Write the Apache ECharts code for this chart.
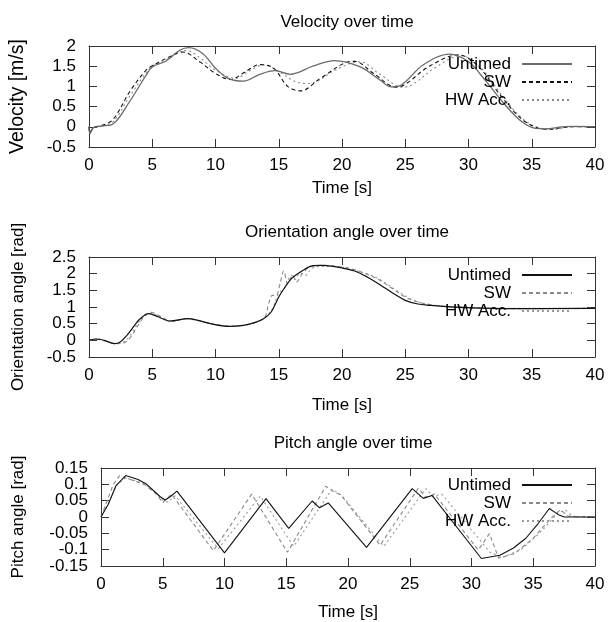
<!DOCTYPE html>
<html>
<head>
<meta charset="utf-8">
<script src="https://cdn.jsdelivr.net/npm/echarts@6/dist/echarts.min.js"></script>
<style>
html,body{margin:0;padding:0;background:#fff;}
#chart{width:608px;height:622px;}
</style>
</head>
<body>
<div id="chart"></div>
<script>
// ---------- data ----------
const titles = ['Velocity over time', 'Orientation angle over time', 'Pitch angle over time'];
const yNames = ['Velocity [m/s]', 'Orientation angle [rad]', 'Pitch angle [rad]'];
const xName = 'Time [s]';
const legendNames = ['Untimed', 'SW', 'HW Acc.'];

// Velocity [m/s]
const velUntimed = [[0,0],[0.08,-0.17],[0.35,-0.02],[1,0.02],[1.9,0.07],[3.2,0.62],[4.5,1.27],[5,1.48],[6.1,1.63],[7.2,1.9],[7.9,1.96],[9,1.81],[10,1.45],[11,1.2],[12.2,1.13],[13.5,1.3],[14.7,1.39],[15.9,1.3],[17.7,1.5],[19.4,1.64],[21.4,1.49],[23,1.16],[23.9,0.99],[24.6,1.02],[26.4,1.53],[28.5,1.8],[30,1.61],[31.3,1.16],[32.9,0.54],[34.2,0.13],[35.3,-0.04],[36.1,-0.05],[37.4,0.0],[38.5,0.01],[40,0.0]];
const velSW = [[0,0],[0.08,-0.15],[0.35,-0.02],[1,0.03],[1.9,0.18],[3.2,0.86],[4.5,1.4],[5,1.51],[6.1,1.69],[7.4,1.85],[8.8,1.6],[10,1.32],[11.2,1.17],[12.3,1.35],[13.5,1.54],[14.6,1.45],[15.7,1.0],[16.7,0.89],[18.3,1.2],[20.4,1.6],[21,1.62],[22.5,1.32],[24.3,0.98],[25,1.05],[26.9,1.5],[29.2,1.78],[30.8,1.49],[32.4,0.83],[34,0.25],[35.3,-0.01],[36.4,-0.06],[38,0.0],[40,0.0]];
const velHW = [[0,0],[0.08,-0.12],[0.35,-0.02],[1,0.02],[1.9,0.12],[3.2,0.75],[4.5,1.33],[5,1.5],[6.1,1.66],[7.7,1.89],[8.8,1.7],[10,1.4],[11.6,1.2],[12.6,1.37],[13.8,1.53],[15,1.37],[16.3,1.12],[17.3,1.07],[18.2,1.15],[19.3,1.38],[21.4,1.61],[23,1.3],[24.8,0.98],[25.6,1.05],[27.3,1.45],[29.4,1.76],[31,1.45],[32.6,0.8],[34.2,0.22],[35.5,-0.02],[36.7,-0.06],[38.2,0.0],[40,0.0]];

// Orientation angle [rad]
const oriUntimed = [[0,0],[0.6,0.04],[1.2,0.0],[2,-0.1],[2.5,-0.04],[3,0.15],[3.6,0.45],[4,0.63],[4.7,0.8],[5.5,0.7],[6.4,0.58],[7.8,0.65],[8.6,0.6],[9.6,0.5],[11.1,0.42],[12.2,0.45],[13.1,0.53],[13.8,0.65],[14.4,0.85],[15,1.3],[15.5,1.6],[16,1.85],[16.5,2.0],[17,2.12],[17.7,2.24],[18.5,2.25],[20,2.17],[21,2.08],[22,1.9],[23,1.67],[24,1.42],[25,1.2],[26,1.09],[27,1.05],[28,1.02],[30,0.98],[33,0.95],[40,0.96]];
const oriSW = [[0,0],[0.6,0.03],[1.2,-0.01],[2.2,-0.1],[2.8,-0.07],[3.3,0.1],[3.8,0.4],[4.3,0.68],[4.9,0.84],[5.6,0.73],[6.5,0.58],[7.8,0.65],[8.6,0.6],[9.6,0.5],[11.1,0.42],[12.2,0.45],[13.1,0.53],[13.9,0.7],[14.2,1.1],[14.5,1.35],[14.8,1.35],[15.1,1.7],[15.4,2.08],[15.7,1.7],[16.1,1.95],[16.4,1.75],[16.9,2.02],[17.5,2.2],[18.5,2.25],[20,2.2],[21,2.12],[22,1.98],[23,1.8],[24,1.55],[25,1.3],[26,1.15],[27,1.07],[28,1.02],[30,0.97],[33,0.95],[40,0.96]];
const oriHW = [[0,0],[0.6,0.04],[1.2,0.0],[2.1,-0.1],[2.7,-0.06],[3.2,0.12],[3.7,0.42],[4.2,0.66],[4.8,0.81],[5.6,0.71],[6.4,0.56],[7.8,0.64],[8.6,0.6],[9.6,0.5],[11.1,0.42],[12.2,0.45],[13.1,0.53],[13.9,0.68],[14.5,0.95],[15,1.4],[15.5,1.58],[16,1.95],[16.3,1.83],[16.7,2.02],[17.1,1.95],[17.6,2.15],[18.3,2.22],[20,2.19],[21,2.1],[22.5,1.92],[23.5,1.7],[24.5,1.45],[25.5,1.23],[26.5,1.1],[27.5,1.04],[29,1.0],[32,0.96],[40,0.96]];

// Pitch angle [rad]
const pitUntimed = [[0,0],[0.6,0.04],[1.2,0.095],[2,0.127],[3,0.115],[3.7,0.1],[4.8,0.062],[5.2,0.052],[5.6,0.062],[6.15,0.079],[10,-0.11],[13.36,0.056],[15.2,-0.035],[17.1,0.049],[17.7,0.028],[18.4,0.043],[21.5,-0.093],[25.2,0.087],[26.1,0.057],[26.8,0.066],[30.8,-0.127],[32.3,-0.117],[33.4,-0.095],[34.4,-0.065],[35.4,-0.02],[36.3,0.026],[37,0.008],[37.5,0.0],[40,0.0]];
const pitSW = [[0,0],[0.5,0.05],[1,0.1],[1.5,0.126],[2.5,0.113],[3.5,0.1],[4.5,0.07],[5,0.044],[5.7,0.07],[9.1,-0.103],[12.2,0.07],[15.1,-0.108],[18.2,0.094],[18.9,0.076],[19.4,0.068],[22.6,-0.086],[25.7,0.088],[26.3,0.06],[27,0.07],[30.55,-0.101],[31.45,-0.051],[32.2,-0.126],[33.5,-0.112],[35,-0.065],[36.4,-0.005],[37.2,0.022],[37.8,0.004],[38.5,0.0],[40,0.0]];
const pitHW = [[0,0],[0.7,0.05],[1.3,0.1],[2,0.12],[3,0.108],[4,0.09],[5,0.052],[5.4,0.045],[6,0.065],[9.5,-0.097],[12.9,0.064],[15.6,-0.09],[18.7,0.085],[19.5,0.066],[22.9,-0.09],[26.3,0.087],[26.9,0.063],[27.6,0.07],[31.5,-0.108],[32.5,-0.124],[34,-0.1],[35.5,-0.05],[37,0.012],[37.6,0.022],[38.2,0.002],[40,0.0]];

const xTicks = {min: 0, max: 40, interval: 5};
// y tick labels per panel
const yTickLabels = [
  [-0.5, 0, 0.5, 1, 1.5, 2],
  [-0.5, 0, 0.5, 1, 1.5, 2, 2.5],
  [-0.15, -0.1, -0.05, 0, 0.05, 0.1, 0.15]
];
const panelData = [
  [velUntimed, velSW, velHW],
  [oriUntimed, oriSW, oriHW],
  [pitUntimed, pitSW, pitHW]
];

// ---------- layout / style ----------
const FONT = "'Liberation Sans', Arial, sans-serif";
const FS = 17;
const grids = [
  {left: 89, right: 13, top: 46, height: 101},
  {left: 89, right: 13, top: 257, height: 100},
  {left: 101, right: 13, top: 468, height: 100}
];
const xNameGaps = [33, 40, 38];
const yNameGaps = [61, 62, 74];
const yNameSizes = [19.5, 17, 17];
const titleTops = [9, 219, 430];
const legendTops = [55, 266, 476];
const styles = [
  [{c:'#6a6a6a', t:'solid', w:1.3}, {c:'#111', t:[4,3], w:1.1}, {c:'#8a8a8a', t:[2,3], w:1.1}],
  [{c:'#111', t:'solid', w:1.2}, {c:'#888', t:[4,3], w:1.1}, {c:'#999', t:[2,3], w:1.1}],
  [{c:'#111', t:'solid', w:1.1}, {c:'#888', t:[4,3], w:1.1}, {c:'#999', t:[2,3], w:1.1}]
];

const axisLine = {show: true, onZero: false, lineStyle: {color: '#333', width: 1}};
const tickIn = (len) => ({show: true, inside: true, length: len, lineStyle: {color: '#333', width: 1}});
const labelStyle = {fontFamily: FONT, fontSize: FS, color: '#000'};

const option = {
  animation: false,
  backgroundColor: '#fff',
  title: [], grid: [], xAxis: [], yAxis: [], series: [], legend: []
};

for (let g = 0; g < 3; g++) {
  const gr = grids[g];
  option.grid.push(Object.assign({containLabel: false}, gr));
  const cx = gr.left + (608 - gr.left - gr.right) / 2;
  option.title.push({
    text: titles[g], left: cx, top: titleTops[g], textAlign: 'center',
    textStyle: {fontFamily: FONT, fontSize: FS, fontWeight: 'normal', color: '#000'}
  });
  option.xAxis.push({
    type: 'value', gridIndex: g, min: xTicks.min, max: xTicks.max, interval: xTicks.interval,
    position: 'bottom', name: xName, nameLocation: 'middle', nameGap: xNameGaps[g],
    nameTextStyle: labelStyle,
    axisLine: axisLine, axisTick: tickIn(8), splitLine: {show: false},
    axisLabel: Object.assign({margin: 10, showMinLabel: true, showMaxLabel: true, hideOverlap: false}, labelStyle)
  });
  option.xAxis.push({
    type: 'value', gridIndex: g, min: xTicks.min, max: xTicks.max, interval: xTicks.interval,
    position: 'top', axisLine: axisLine, axisTick: tickIn(8), splitLine: {show: false},
    axisLabel: {show: false}
  });
  const ticks = yTickLabels[g];
  const ymin = ticks[0], ymax = ticks[ticks.length - 1];
  const step = Math.round((ticks[1] - ticks[0]) * 1e6) / 1e6;
  const labA = ticks.filter((v, i) => (ticks.length - 1 - i) % 2 === 0);
  const labB = ticks.filter((v, i) => (ticks.length - 1 - i) % 2 === 1);
  const fmt = (v) => String(Math.round(v * 1e6) / 1e6);
  // main left axis (line, ticks, name, half of labels)
  option.yAxis.push({
    type: 'value', gridIndex: g, min: ymin, max: ymax, interval: step,
    position: 'left', name: yNames[g], nameLocation: 'middle', nameGap: yNameGaps[g],
    nameTextStyle: {fontFamily: FONT, fontSize: yNameSizes[g], color: '#000'},
    axisLine: axisLine, axisTick: tickIn(8), splitLine: {show: false},
    axisLabel: Object.assign({margin: 13, customValues: labA, formatter: fmt, showMinLabel: true, showMaxLabel: true, hideOverlap: false}, labelStyle)
  });
  // right mirror axis
  option.yAxis.push({
    type: 'value', gridIndex: g, min: ymin, max: ymax, interval: step,
    position: 'right', axisLine: axisLine, axisTick: tickIn(8), splitLine: {show: false},
    axisLabel: {show: false}
  });
  // second left axis carrying the other half of labels
  option.yAxis.push({
    type: 'value', gridIndex: g, min: ymin, max: ymax, interval: step,
    position: 'left', axisLine: {show: false, onZero: false}, axisTick: {show: false}, splitLine: {show: false},
    axisLabel: Object.assign({margin: 13, customValues: labB, formatter: fmt, showMinLabel: true, showMaxLabel: true, hideOverlap: false}, labelStyle)
  });
  const names = [];
  for (let s = 0; s < 3; s++) {
    const st = styles[g][s];
    const nm = legendNames[s] + '|' + g;
    names.push(nm);
    option.series.push({
      type: 'line', name: nm, xAxisIndex: 2 * g, yAxisIndex: 3 * g,
      data: panelData[g][s], showSymbol: false, symbol: 'none',
      smooth: g === 2 ? false : 0.35, z: 3 - s,
      lineStyle: {color: st.c, type: st.t, width: st.w},
      itemStyle: {color: st.c}
    });
  }
  option.legend.push({
    data: names, orient: 'vertical', align: 'right', right: 35, top: legendTops[g],
    padding: 0, itemWidth: 50, itemHeight: 10, itemGap: 0, selectedMode: false,
    formatter: (n) => n.split('|')[0],
    itemStyle: {opacity: 0},
    textStyle: {fontFamily: FONT, fontSize: FS, color: '#000', lineHeight: 18, padding: [0, 6, 0, 0]}
  });
}

const chart = echarts.init(document.getElementById('chart'), null, {renderer: 'canvas'});
chart.setOption(option);
</script>
</body>
</html>
